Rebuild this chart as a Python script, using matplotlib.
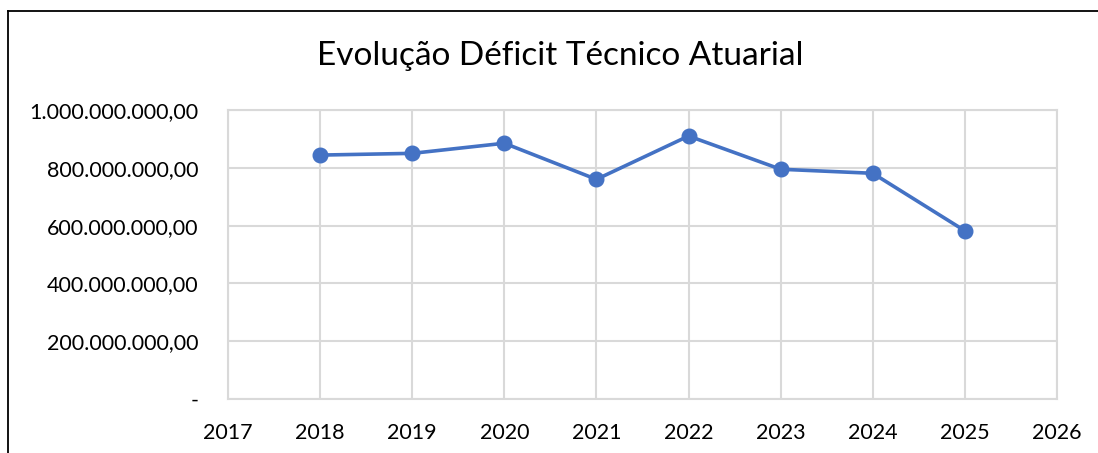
import matplotlib.pyplot as plt
from matplotlib.ticker import FuncFormatter
from matplotlib.lines import Line2D

# dados
anos = [2018, 2019, 2020, 2021, 2022, 2023, 2024, 2025]
deficit = [844e6, 850e6, 885e6, 760e6, 910e6, 795e6, 781e6, 582e6]

plt.rcParams['font.family'] = ['Lato', 'DejaVu Sans']

fig = plt.figure(figsize=(10.98, 4.53), dpi=100)
ax = fig.add_axes([228 / 1098, 1 - 399 / 453, (1057 - 228) / 1098, (399 - 110) / 453])


def fmt_br(v, pos):
    if abs(v) < 1:
        return '-'
    s = f'{v:,.2f}'
    return s.replace(',', 'X').replace('.', ',').replace('X', '.')


ax.plot(anos, deficit, color='#4472C4', linewidth=2.6, marker='o', markersize=10.5)
ax.set_xlim(2017, 2026)
ax.set_ylim(0, 1e9)
ax.set_xticks(range(2017, 2027))
ax.set_yticks([0, 2e8, 4e8, 6e8, 8e8, 1e9])
ax.yaxis.set_major_formatter(FuncFormatter(fmt_br))
ax.grid(True, color='#D9D9D9', linewidth=1.5)
ax.set_axisbelow(True)
for sp in ax.spines.values():
    sp.set_color('#D9D9D9')
    sp.set_linewidth(1.5)
ax.tick_params(length=0, labelsize=15.5, colors='black')
ax.tick_params(axis='y', pad=21)
ax.tick_params(axis='x', pad=17)

fig.text(560 / 1098, 1 - 56 / 453, 'Evolução Déficit Técnico Atuarial', ha='center', va='center', fontsize=24)

# borda do gráfico
fig.add_artist(Line2D([8 / 1098, 8 / 1098], [0, 1 - 11 / 453], color='black', linewidth=1.3))
fig.add_artist(Line2D([8 / 1098, 1], [1 - 11 / 453, 1 - 11 / 453], color='black', linewidth=1.3))

fig.savefig('out.png', dpi=100)
